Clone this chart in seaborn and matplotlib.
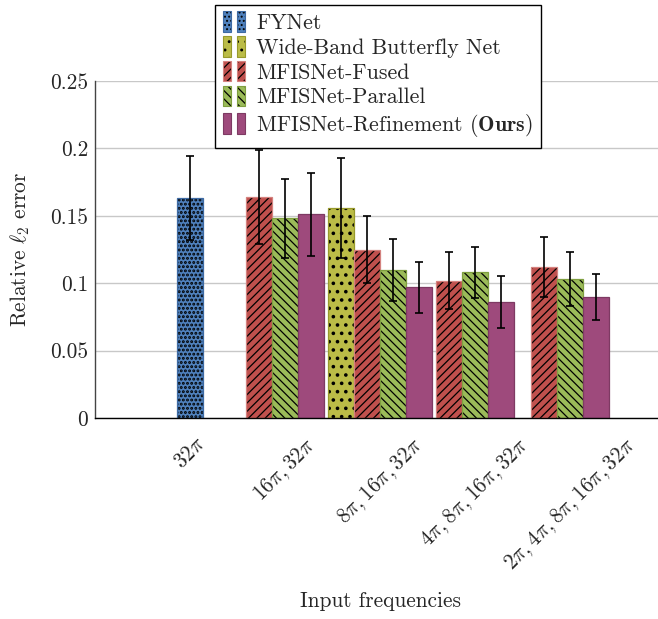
import matplotlib
matplotlib.use("Agg")
import matplotlib.pyplot as plt
import numpy as np
import pandas as pd
import seaborn as sns
from matplotlib.colors import to_rgba
from matplotlib.legend_handler import HandlerBase
from matplotlib.patches import Patch, Rectangle

# ---- data ----
methods = [
    "FYNet",
    "Wide-Band Butterfly Net",
    "MFISNet-Fused",
    "MFISNet-Parallel",
    "MFISNet-Refinement",
]
legend_labels = [
    "FYNet",
    "Wide-Band Butterfly Net",
    "MFISNet-Fused",
    "MFISNet-Parallel",
    r"MFISNet-Refinement ($\mathbf{Ours}$)",
]
group_labels = [
    r"$32\pi$",
    r"$16\pi,32\pi$",
    r"$8\pi,16\pi,32\pi$",
    r"$4\pi,8\pi,16\pi,32\pi$",
    r"$2\pi,4\pi,8\pi,16\pi,32\pi$",
]

fynet_groups = [0]
fynet_mean = [0.163]
fynet_err = [0.031]

wbbn_groups = [2]
wbbn_mean = [0.156]
wbbn_err = [0.037]

fused_groups = [1, 2, 3, 4]
fused_mean = [0.164, 0.125, 0.102, 0.112]
fused_err = [0.035, 0.025, 0.021, 0.022]

parallel_groups = [1, 2, 3, 4]
parallel_mean = [0.148, 0.110, 0.108, 0.103]
parallel_err = [0.029, 0.023, 0.019, 0.020]

refine_groups = [1, 2, 3, 4]
refine_mean = [0.151, 0.097, 0.086, 0.090]
refine_err = [0.031, 0.019, 0.019, 0.017]

# ---- style ----
fills = ["#4f81bd", "#bbbc47", "#c0504d", "#9bbb59", "#9e4a7c"]
edges = ["#3e6aa3", "#989a2c", "#d4827f", "#7f9f40", "#7e3a63"]
hatches = ["....", "..", "////", "\\\\\\\\", ""]
BAR_W = 0.274  # bar width in group units


def build_frame():
    series = [
        (fynet_groups, fynet_mean, fynet_err),
        (wbbn_groups, wbbn_mean, wbbn_err),
        (fused_groups, fused_mean, fused_err),
        (parallel_groups, parallel_mean, parallel_err),
        (refine_groups, refine_mean, refine_err),
    ]
    rows = []
    for m, (grp, mean, err) in zip(methods, series):
        for g, v, e in zip(grp, mean, err):
            rows.append({"method": m, "group": g, "value": v, "err": e})
    df = pd.DataFrame(rows)
    df["order"] = df["method"].map({m: i for i, m in enumerate(methods)})
    df = df.sort_values(["group", "order"]).reset_index(drop=True)
    # bars of a group sit side by side, centred on the group tick
    df["slot"] = df.groupby("group").cumcount()
    n = df.groupby("group")["slot"].transform("count")
    df["pos"] = df["group"] + (df["slot"] - (n - 1) / 2) * BAR_W
    return df


def black_hatch(patch, lw=None):
    if hasattr(patch, "set_hatchcolor"):
        patch.set_hatchcolor("black")
    else:
        patch._hatch_color = to_rgba("black")
    if lw is not None:
        if hasattr(patch, "set_hatch_linewidth"):
            patch.set_hatch_linewidth(lw)
        else:
            patch._hatch_linewidth = lw


class TwoBarHandler(HandlerBase):
    def create_artists(self, legend, orig_handle, xdescent, ydescent,
                       width, height, fontsize, trans):
        bw = width * 0.36
        arts = []
        for x0 in (0, width - bw):
            r = Rectangle((x0 - xdescent, -ydescent - 0.12 * height), bw, height * 1.24,
                          facecolor=orig_handle.get_facecolor(),
                          edgecolor=orig_handle.get_edgecolor(),
                          hatch=orig_handle.get_hatch(), lw=0.8, transform=trans)
            black_hatch(r)
            arts.append(r)
        return arts


def main():
    df = build_frame()

    sns.set_theme(style="white")
    plt.rcParams["font.family"] = ["cmr10", "DejaVu Serif"]
    plt.rcParams["mathtext.fontset"] = "cm"
    plt.rcParams["axes.formatter.use_mathtext"] = True
    plt.rcParams["hatch.linewidth"] = 0.9
    fs = 15.4

    fig = plt.figure(figsize=(6.58, 6.19), dpi=100)
    ax = fig.add_axes([95 / 658, 201 / 619, 570 / 658, 337 / 619])

    sns.barplot(
        data=df, x="pos", y="value", hue="method", hue_order=methods,
        palette=fills, native_scale=True, dodge=False, width=1.0,
        saturation=1, errorbar=None, legend=False, ax=ax, zorder=2,
    )
    for i, cont in enumerate(ax.containers):
        for p in cont:
            p.set_edgecolor(edges[i])
            p.set_linewidth(0.9)
            p.set_hatch(hatches[i])
            black_hatch(p, 1.4 if "." in hatches[i] else None)

    ax.errorbar(df["pos"], df["value"], yerr=df["err"], fmt="none",
                ecolor="black", elinewidth=1.2, capsize=3.2, capthick=1.2, zorder=3)

    ax.set_xlim(-1, 5)
    ax.set_ylim(0, 0.25)
    ax.set_xticks(range(len(group_labels)))
    ax.set_xticklabels(group_labels, rotation=45, ha="center", va="top", fontsize=fs)
    yt = [0, 0.05, 0.1, 0.15, 0.2, 0.25]
    ax.set_yticks(yt)
    ax.set_yticklabels(["0", "0.05", "0.1", "0.15", "0.2", "0.25"], fontsize=fs)
    ax.tick_params(axis="x", direction="out", length=6.5, width=1, color="#b0b0b0", pad=5)
    ax.tick_params(axis="y", direction="in", length=4, width=1, color="#9a9a9a", pad=5)

    ax.set_xlabel("Input frequencies", fontsize=fs, labelpad=12)
    ax.set_ylabel(r"Relative $\ell_2$ error", fontsize=fs, labelpad=13)

    ax.yaxis.grid(True, color="#c8c8c8", lw=1.0, zorder=0)
    ax.xaxis.grid(False)
    ax.set_axisbelow(True)
    for side in ("top", "right"):
        ax.spines[side].set_visible(False)
    ax.spines["bottom"].set_color("black")
    ax.spines["left"].set_color("#444444")
    for side in ("bottom", "left"):
        ax.spines[side].set_linewidth(1.0)

    handles = [Patch(facecolor=fills[i], edgecolor=edges[i], hatch=hatches[i])
               for i in range(len(methods))]
    leg = fig.legend(
        handles, legend_labels, handler_map={Patch: TwoBarHandler()},
        loc="upper left", bbox_to_anchor=(215 / 658, 1 - 5 / 619),
        fontsize=15.8, frameon=True, fancybox=False, framealpha=1,
        edgecolor="black", borderaxespad=0, borderpad=0.38,
        handlelength=1.0, handleheight=0.78, handletextpad=0.5, labelspacing=0.22,
    )
    leg.get_frame().set_linewidth(1.0)

    fig.savefig("out.png", dpi=100)
    plt.close(fig)


if __name__ == "__main__":
    main()
